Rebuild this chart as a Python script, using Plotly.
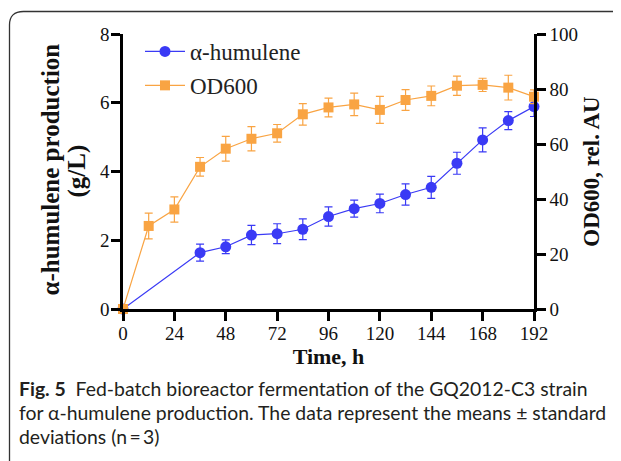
import plotly.graph_objects as go

time_h = [0, 36, 48, 60, 72, 84, 96, 108, 120, 132, 144, 156, 168, 180, 192]
humulene = [0, 1.64, 1.81, 2.15, 2.19, 2.32, 2.69, 2.92, 3.07, 3.33, 3.54, 4.24, 4.92, 5.48, 5.89]
humulene_sd = [0, 0.25, 0.20, 0.28, 0.29, 0.30, 0.28, 0.25, 0.27, 0.31, 0.32, 0.32, 0.35, 0.26, 0.29]

time_od = [0, 12, 24, 36, 48, 60, 72, 84, 96, 108, 120, 132, 144, 156, 168, 180, 192]
od600 = [0, 30.2, 36.2, 51.7, 58.3, 61.9, 63.9, 70.8, 73.3, 74.4, 72.4, 76.0, 77.5, 81.2, 81.5, 80.5, 77.2]
od600_sd = [0, 4.7, 4.6, 3.4, 4.5, 4.4, 3.2, 3.9, 3.4, 4.1, 4.9, 3.8, 3.6, 3.5, 2.4, 4.5, 2.5]

x_ticks = [0, 24, 48, 72, 96, 120, 144, 168, 192]
y_ticks = [0, 2, 4, 6, 8]
y2_ticks = [0, 20, 40, 60, 80, 100]

# page has an 8px body margin; figure sized to fit the window
OFF = 8
W, H = 621 - OFF, 461 - OFF
L, R, T, B = 123, 534, 34, 309   # plot area in screen pixels

BLUE = "#3a3af5"
ORANGE = "#f9a443"
SERIF = "Liberation Serif, Times New Roman, serif"

fig = go.Figure()
fig.add_trace(go.Scatter(
    x=time_od, y=od600, yaxis="y2", name="OD600", mode="lines+markers",
    legendgroup="b", legendrank=2,
    line=dict(color=ORANGE, width=1.2),
    marker=dict(symbol="square", size=10, color=ORANGE),
    error_y=dict(type="data", array=od600_sd, color=ORANGE, thickness=1.2, width=4),
    cliponaxis=False,
))
fig.add_trace(go.Scatter(
    x=time_h, y=humulene, name="α-humulene", mode="lines+markers",
    legendgroup="a", legendrank=1,
    line=dict(color=BLUE, width=1.2),
    marker=dict(symbol="circle", size=11, color=BLUE),
    error_y=dict(type="data", array=humulene_sd, color=BLUE, thickness=1.2, width=4),
    cliponaxis=False,
))

def px(x):
    return (x - L) / (R - L)

def py(y):
    return (B - y) / (B - T)

axis_common = dict(
    showline=True, linecolor="black", linewidth=2.5, ticks="outside",
    ticklen=9, tickwidth=2.5, tickcolor="black", showgrid=False, zeroline=False,
    tickfont=dict(family=SERIF, size=19, color="#111"),
)

fig.update_layout(
    width=W, height=H,
    margin=dict(l=L - OFF, r=W - (R - OFF), t=T - OFF, b=H - (B - OFF), pad=0),
    paper_bgcolor="white", plot_bgcolor="white",
    xaxis=dict(range=[0, 192], tickvals=x_ticks, ticklabelstandoff=-4, **axis_common,
               title=dict(text="<b>Time, h</b>", font=dict(family=SERIF, size=22, color="#111"), standoff=2)),
    yaxis=dict(range=[0, 8], tickvals=y_ticks, ticklabelstandoff=-2, **axis_common),
    yaxis2=dict(range=[0, 100], tickvals=y2_ticks, overlaying="y", side="right", anchor="x",
                ticklabelstandoff=0, **axis_common,
                title=dict(text="<b>OD600, rel. AU</b>", font=dict(family=SERIF, size=23, color="#111"), standoff=6)),
    legend=dict(x=px(140), y=py(30), xanchor="left", yanchor="top", traceorder="grouped",
                font=dict(family=SERIF, size=23, color="#222"), bgcolor="rgba(0,0,0,0)",
                itemwidth=40, tracegroupgap=1),
    showlegend=True,
)

# left axis title, two centred lines
fig.add_annotation(text="<b>α-humulene production</b>", xref="paper", yref="paper",
                   x=px(49.5), y=py(170), xanchor="center", yanchor="middle", textangle=-90,
                   showarrow=False, font=dict(family=SERIF, size=25, color="#111"))
fig.add_annotation(text="<b>(g/L)</b>", xref="paper", yref="paper",
                   x=px(76.5), y=py(171), xanchor="center", yanchor="middle", textangle=-90,
                   showarrow=False, font=dict(family=SERIF, size=25, color="#111"))

# Frame (rounded top-left corner)
path = "M {x0},{y0} L {x0},{y1} Q {x0},{y2} {x3},{y2} L {x4},{y2}".format(
    x0=px(9.5), y0=py(480), y1=py(25), y2=py(11.5), x3=px(23.5), x4=px(640))
fig.add_shape(type="path", path=path, xref="paper", yref="paper",
              line=dict(color="#333", width=1.3))

CAP = "Lato, Open Sans, sans-serif"
cap_lines = [
    "<b>Fig. 5</b>  Fed-batch bioreactor fermentation of the GQ2012-C3 strain",
    "for α-humulene production. The data represent the means ± standard",
    "deviations (n\u2009=\u20093)",
]
for i, t in enumerate(cap_lines):
    fig.add_annotation(text=t, xref="paper", yref="paper", x=px(17), y=py(388 + i * 24.5),
                       xanchor="left", yanchor="middle", showarrow=False,
                       font=dict(family=CAP, size=19.4, color="#231f20"))

fig.write_html("out.html")
